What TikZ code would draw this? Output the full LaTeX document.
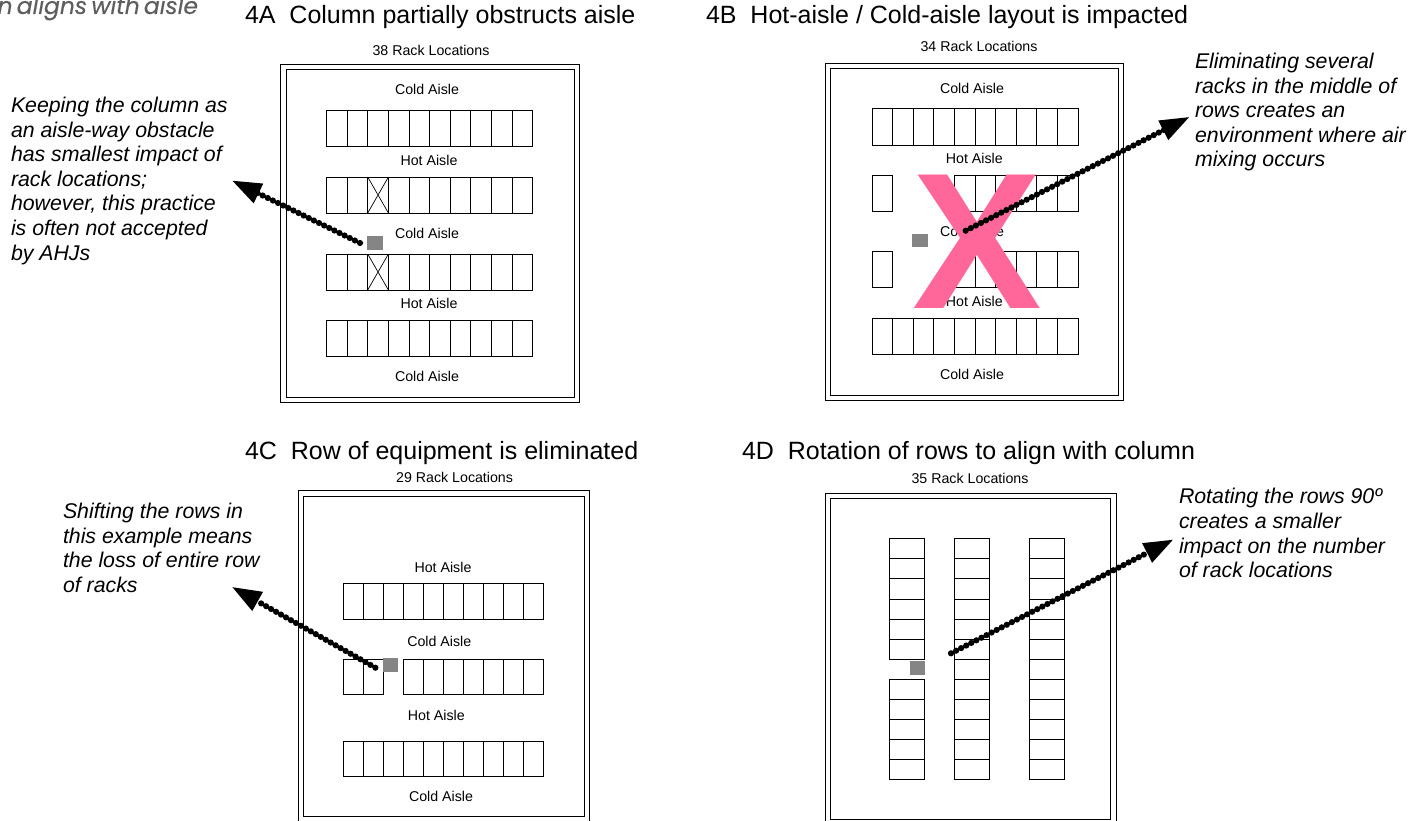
\documentclass[tikz,border=0pt]{standalone}
\usepackage{fontspec}
\setmainfont{Liberation Sans}
\newfontfamily\capfont[WordSpace=0.6,FakeBold=0.25]{Poppins}
\usetikzlibrary{arrows.meta}
\definecolor{colgray}{HTML}{858585}
\definecolor{xpink}{HTML}{FF6699}
\definecolor{capgray}{HTML}{5E5E5E}
\tikzset{
  x=1pt,y=-1pt,
  every node/.style={inner sep=0pt,outer sep=0pt},
  frameline/.style={draw=black,line width=0.9pt,fill=white},
  rackcell/.style={draw=black,line width=0.9pt,fill=white},
  colbox/.style={fill=colgray,draw=none},
  panelhead/.style={anchor=west,font=\fontsize{25}{29}\selectfont},
  smalllabel/.style={font=\fontsize{14.2}{17}\selectfont},
  note/.style={anchor=north west,align=left,font=\fontsize{21.3}{24.6}\selectfont\itshape},
  leader/.style={line width=6.2pt,line cap=round,dash pattern=on 0pt off 5.7pt,
    -{Triangle[length=30pt,width=20pt]}},
}
% x, y top, cell width, height, count (horizontal)
\newcommand{\hrow}[5]{\foreach \ci in {1,...,#5}{\draw[rackcell] ({#1+(\ci-1)*#3},#2) rectangle ++(#3,#4);}}
% x, y top, width, cell height, count (vertical)
\newcommand{\vrow}[5]{\foreach \ci in {1,...,#5}{\draw[rackcell] (#1,{#2+(\ci-1)*#4}) rectangle ++(#3,#4);}}
\begin{document}
\begin{tikzpicture}
\useasboundingbox (0,0) rectangle (1423,821);
\fill[white] (0,0) rectangle (1423,821);
\begin{scope}
\clip (0,0) rectangle (1423,821);

% cropped caption
\node[anchor=base east,text=capgray,font=\capfont\fontsize{23.4}{26}\selectfont\itshape] (crop) at (198,14) {n aligns with aisle};

% 4A
\node[panelhead] (headA) at (245,17) {4A\hspace{0.556em}Column partially obstructs aisle};
\node[smalllabel] (countA) at (431,50) {38 Rack Locations};
\draw[frameline] (280.5,64.3) rectangle (579.5,402.7);
\draw[frameline] (286,69.3) rectangle (574.5,397.3);
\hrow{326.5}{110.3}{20.62}{36}{10}
\hrow{326.5}{177}{20.62}{36}{10}
\hrow{326.5}{254}{20.62}{36}{10}
\hrow{326.5}{320.7}{20.62}{36}{10}
\draw[line width=0.7pt] (367.7,177)--(388.4,213) (388.4,177)--(367.7,213);
\draw[line width=0.7pt] (367.7,254)--(388.4,290) (388.4,254)--(367.7,290);
\node[smalllabel] (a1) at (427,89) {Cold Aisle};
\node[smalllabel] (a2) at (429,160) {Hot Aisle};
\node[smalllabel] (a3) at (427,233) {Cold Aisle};
\node[smalllabel] (a4) at (429,303) {Hot Aisle};
\node[smalllabel] (a5) at (427,376) {Cold Aisle};
\node[colbox,minimum width=16pt,minimum height=13.5pt,anchor=north west] (colA) at (367,236) {};
\node[note] (noteA) at (11,97) {Keeping the column as\\an aisle-way obstacle\\has smallest impact of\\rack locations;\\however, this practice\\is often not accepted\\by AHJs};
\coordinate (startA) at (360,243);
\coordinate (tipA) at (231.5,180.3);
\draw[leader] (startA) -- (tipA);

% 4B
\node[panelhead] (headB) at (706,17) {4B\hspace{0.556em}Hot-aisle / Cold-aisle layout is impacted};
\node[smalllabel] (countB) at (979,46) {34 Rack Locations};
\draw[frameline] (825.8,63) rectangle (1123.6,400);
\draw[frameline] (830.8,68.3) rectangle (1118.7,395);
\hrow{872}{108.7}{20.6}{36.3}{10}
\hrow{872}{175.3}{20.6}{36}{1}
\hrow{954.4}{175.3}{20.6}{36}{6}
\hrow{872}{251.6}{20.6}{35.8}{1}
\hrow{954.4}{251.6}{20.6}{35.8}{6}
\hrow{872}{318}{20.6}{36}{10}
\node[smalllabel] (b1) at (972,88) {Cold Aisle};
\node[smalllabel] (b2) at (974.3,158) {Hot Aisle};
\node[smalllabel] (b3) at (972,231) {Cold Aisle};
\node[smalllabel] (b4) at (974.3,301) {Hot Aisle};
\node[smalllabel] (b5) at (972,374) {Cold Aisle};
\node[colbox,minimum width=16pt,minimum height=13.5pt,anchor=north west] (colB) at (912,233.5) {};
\node[text=xpink,font=\fontsize{194}{194}\selectfont\bfseries] (bigx) at (976.9,242) {X};
\node[note] (noteB) at (1195,53) {Eliminating several\\racks in the middle of\\rows creates an\\environment where air\\mixing occurs};
\coordinate (startB) at (965.7,230.7);
\coordinate (tipB) at (1190,116.7);
\draw[leader] (startB) -- (tipB);

% 4C
\node[panelhead] (headC) at (245,453.5) {4C\hspace{0.556em}Row of equipment is eliminated};
\node[smalllabel] (countC) at (454.6,477.3) {29 Rack Locations};
\draw[frameline] (298.5,490.7) rectangle (589,830);
\draw[frameline] (303.5,496.3) rectangle (584,816.7);
\hrow{343.3}{583.7}{20.05}{35.6}{10}
\hrow{343.3}{659}{20.05}{35.3}{2}
\hrow{403.4}{659}{20.05}{35.3}{7}
\hrow{343.3}{741.3}{20.05}{35.4}{10}
\node[smalllabel] (c1) at (443,567.3) {Hot Aisle};
\node[smalllabel] (c2) at (439.3,641) {Cold Aisle};
\node[smalllabel] (c3) at (436.3,715.3) {Hot Aisle};
\node[smalllabel] (c4) at (441,796) {Cold Aisle};
\node[colbox,minimum width=15pt,minimum height=13.5pt,anchor=north west] (colC) at (383,658.3) {};
\node[note] (noteC) at (63,503) {Shifting the rows in\\this example means\\the loss of entire row\\of racks};
\coordinate (startC) at (375.4,667.7);
\coordinate (tipC) at (231.5,586.7);
\draw[leader] (startC) -- (tipC);

% 4D
\node[panelhead] (headD) at (742,453.5) {4D\hspace{0.556em}Rotation of rows to align with column};
\node[smalllabel] (countD) at (970,478.3) {35 Rack Locations};
\draw[frameline] (825.8,493.3) rectangle (1116,830);
\draw[frameline] (830.8,498.7) rectangle (1110.6,819.3);
\vrow{889}{538.7}{35.2}{20.1}{6}
\vrow{889}{679.3}{35.2}{20.1}{5}
\vrow{954}{538.7}{35.4}{20.1}{12}
\vrow{1029}{538.7}{35.4}{20.1}{12}
\node[colbox,minimum width=15pt,minimum height=14pt,anchor=north west] (colD) at (910,661) {};
\node[note] (noteD) at (1179,488.5) {Rotating the rows 90º\\creates a smaller\\impact on the number\\of rack locations};
\coordinate (startD) at (951,653.3);
\coordinate (tipD) at (1173.8,539.3);
\draw[leader] (startD) -- (tipD);
\end{scope}
\end{tikzpicture}
\end{document}
